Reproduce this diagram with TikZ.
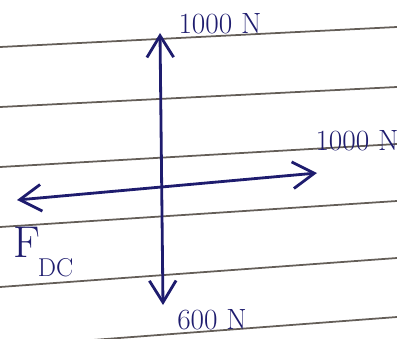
\documentclass[tikz,border=0pt]{standalone}
\usepackage{amsmath,amssymb}
\usetikzlibrary{arrows.meta,calc,positioning}
\definecolor{ink}{RGB}{30,28,110}
\definecolor{ruling}{RGB}{100,94,88}

\begin{document}
\begin{tikzpicture}[x=0.03cm,y=-0.03cm]
	\tikzstyle{force}=[draw=ink,line width=2.4pt,line cap=round,{Straight Barb[length=6.5mm,width=8mm]}-{Straight Barb[length=6.5mm,width=8mm]}]
	\tikzstyle{forcelabel}=[text=ink,inner sep=0pt,font=\fontsize{25}{28}\selectfont]
	\useasboundingbox (0,0) rectangle (397,338);
	\clip (0,0) rectangle (397,338);
	%
	% ruled paper
	\foreach \l/\r in {47/27,107/87,167/144,227/201,287/258,347/317}
		\draw[ruling,line width=1.5pt] (0,\l) -- (397,\r);
	%
	% ends of the forces
	\coordinate (top) at (160,33);
	\coordinate (bot) at (163,305);
	\coordinate (lft) at (17,200);
	\coordinate (rgt) at (317,173);
	%
	\draw[force] (bot) -- (top);
	\draw[force] (lft) -- (rgt);
	%
	% Annotations
	\node[forcelabel] (ntop) at (220,24) {1000 N};
	\node[forcelabel] (nrgt) at (357,141) {1000 N};
	\node[forcelabel] (nbot) at (212,320) {600 N};
	\node[forcelabel,anchor=north west,font=\fontsize{38}{40}\selectfont] (nlft) at (13,227) {F\hspace{-0.05em}{\fontsize{22}{24}\selectfont\raisebox{-0.75em}{DC}}};
	%
\end{tikzpicture}
\end{document}
